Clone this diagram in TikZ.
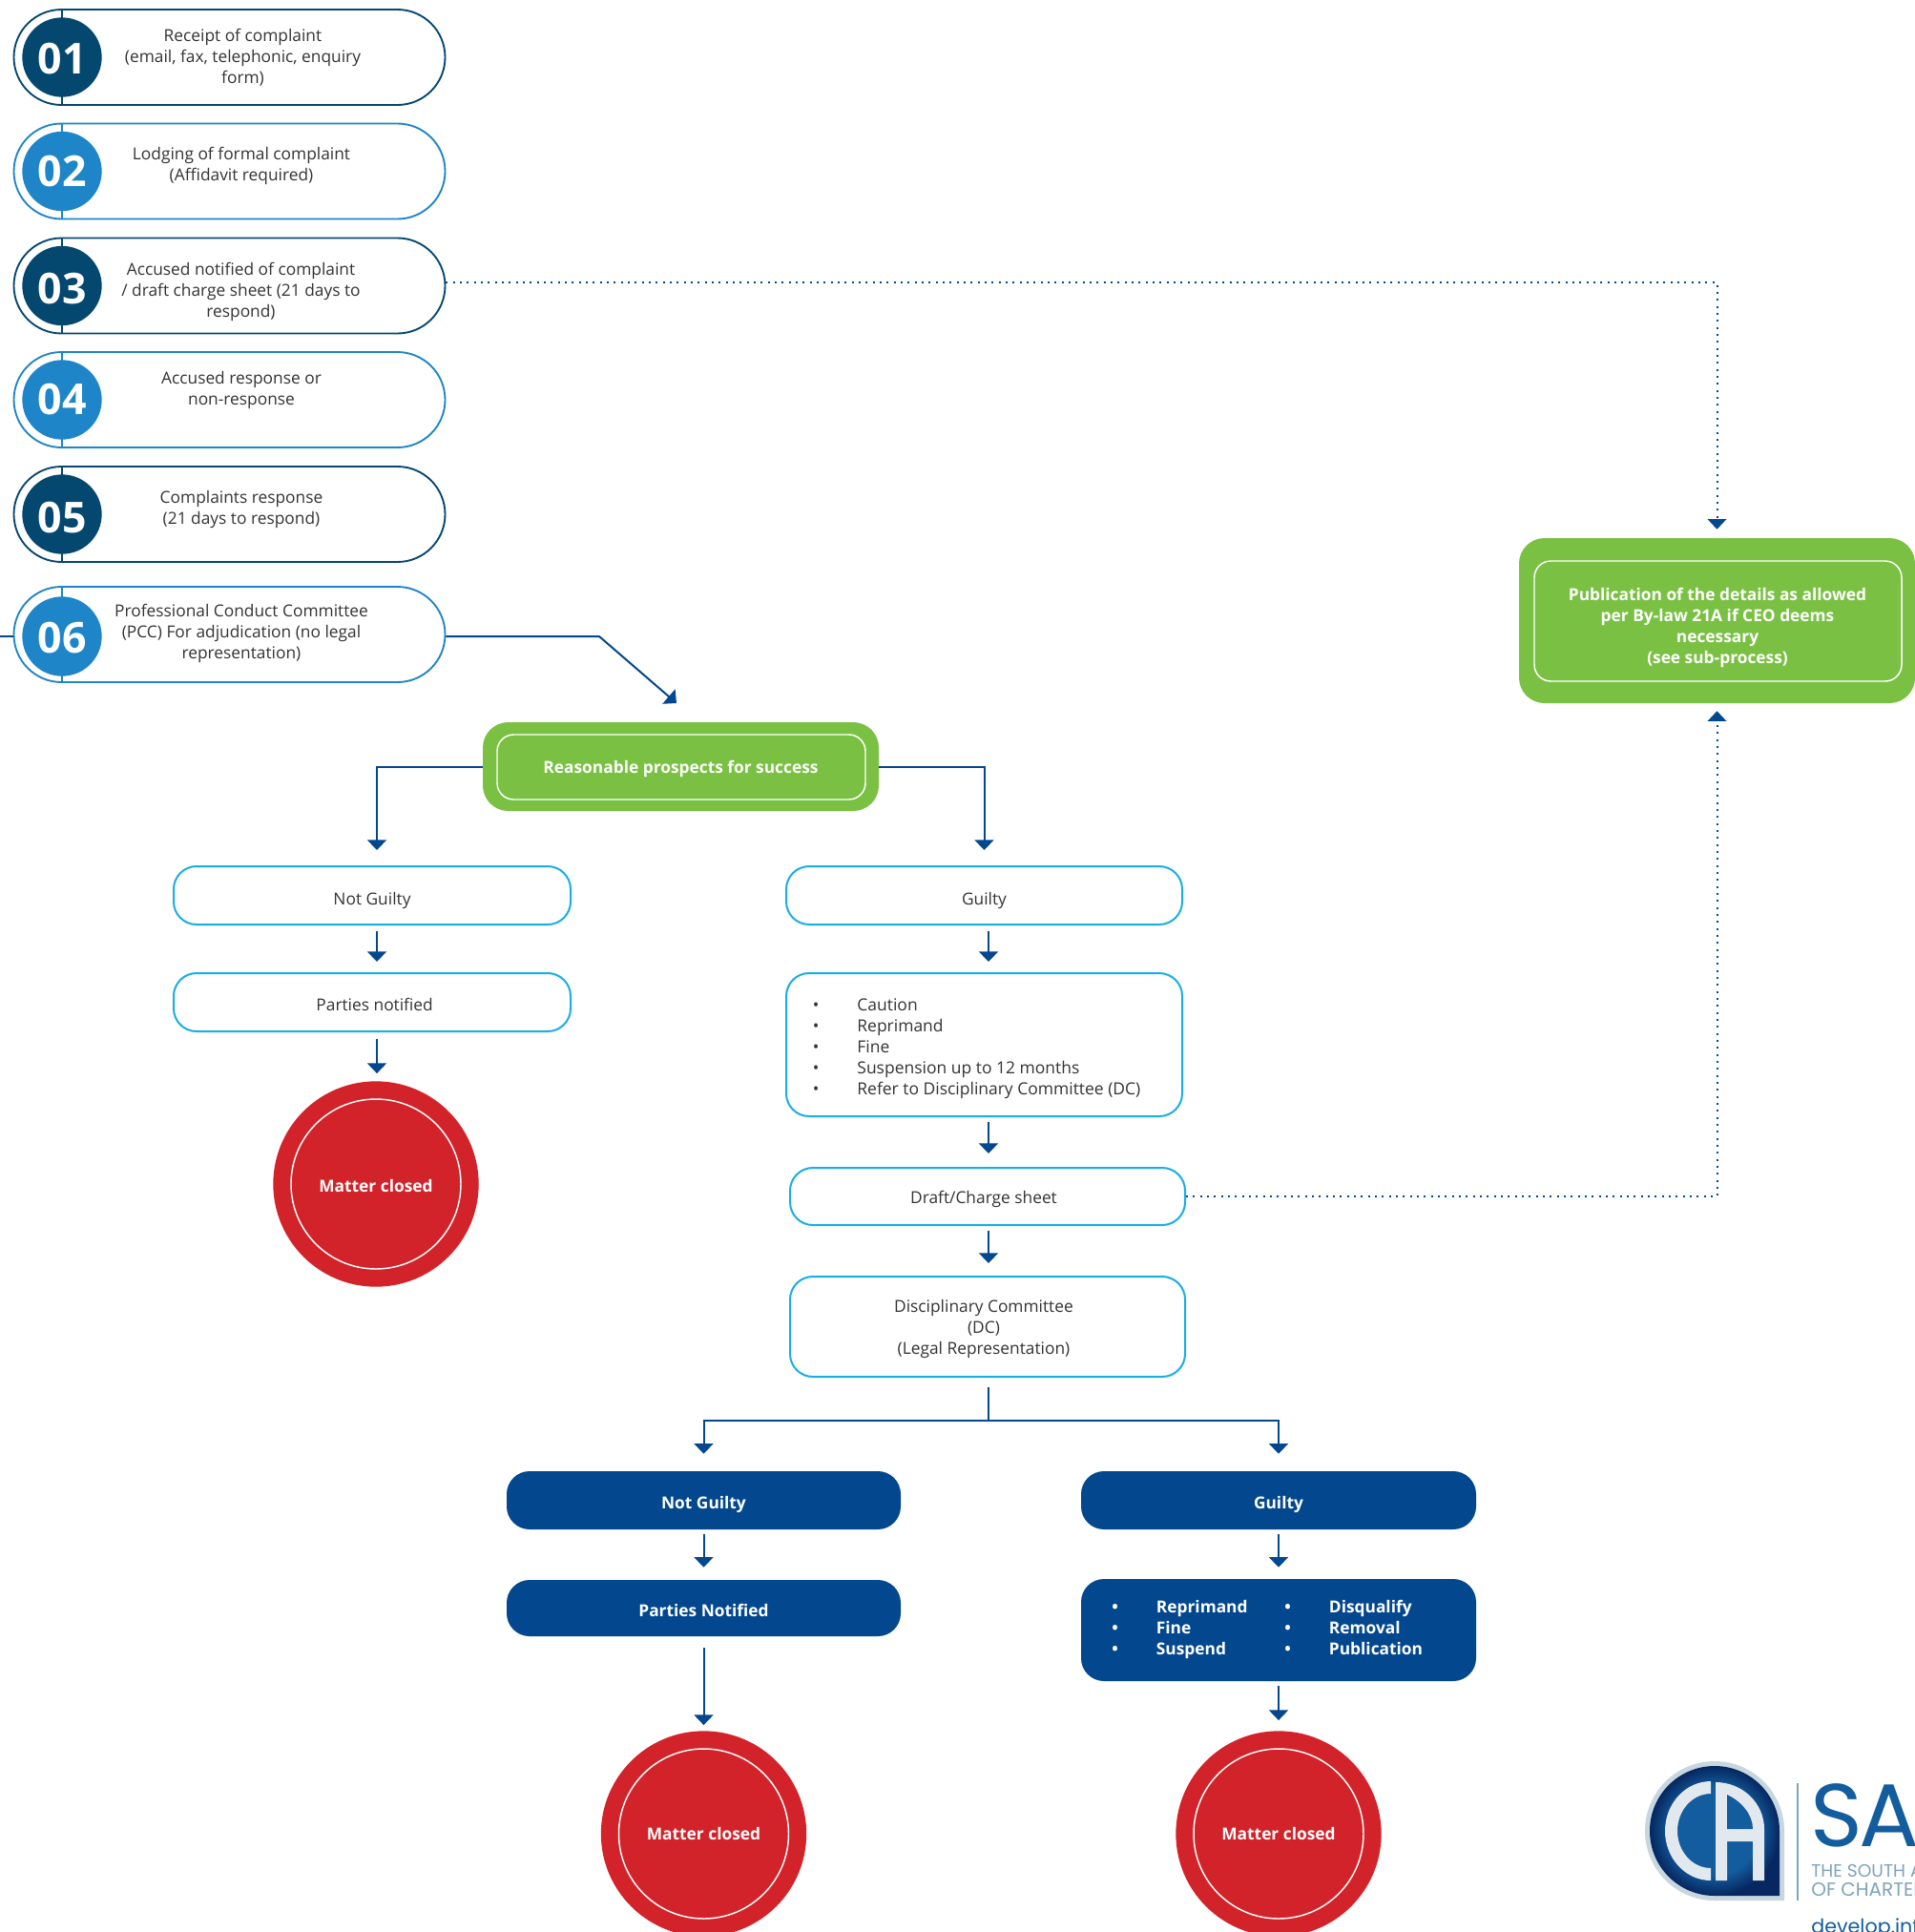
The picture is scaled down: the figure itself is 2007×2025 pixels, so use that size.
\documentclass[tikz,border=0pt]{standalone}
\usepackage{fontspec}
\setmainfont{Open Sans}
\newfontfamily\logofont{Poppins}
\usetikzlibrary{arrows.meta,calc,shapes.geometric}
\definecolor{dkpill}{HTML}{04476F}
\definecolor{mdpill}{HTML}{1E85C8}
\definecolor{ltbox}{HTML}{18AEE6}
\definecolor{grn}{HTML}{7AC143}
\definecolor{navy}{HTML}{03488E}
\definecolor{redc}{HTML}{D2232A}
\definecolor{bodytx}{HTML}{333333}
\definecolor{logoblue}{HTML}{135C9E}
\definecolor{logodark}{HTML}{06275F}
\definecolor{logosil}{HTML}{C8D6E0}
\definecolor{logotx}{HTML}{7FA3BC}
\pgfdeclareradialshading{logoshade}{\pgfpointorigin}{color(0bp)=(logoblue); color(17bp)=(logoblue); color(25bp)=(logodark); color(50bp)=(logodark)}
\tikzset{
  x=0.75pt,y=-0.75pt,
  pill/.style={draw=#1,line width=1.4pt,fill=white,rectangle,rounded corners=37.5pt,minimum width=339pt,minimum height=75pt,inner sep=0pt},
  tick/.style={draw=#1,line width=1.4pt},
  num/.style={circle,fill=#1,text=white,minimum size=62.5pt,inner sep=0pt,font=\bfseries\fontsize{33.5}{33.5}\selectfont},
  bodyt/.style={inner sep=0pt,align=center,text=bodytx,font=\fontsize{13}{16.5}\selectfont},
  boldt/.style={inner sep=0pt,align=center,text=white,font=\bfseries\fontsize{13}{16.5}\selectfont},
  listt/.style={inner sep=0pt,anchor=west,align=left,text=bodytx,font=\fontsize{13.1}{16.6}\selectfont},
  blistt/.style={inner sep=0pt,anchor=west,align=left,text=white,font=\bfseries\fontsize{13}{16.6}\selectfont},
  ltb/.style 2 args={draw=ltbox,line width=1.5pt,fill=white,rectangle,rounded corners=18pt,minimum width=#1*0.75pt,minimum height=#2*0.75pt,inner sep=0pt,align=center,text=bodytx,font=\fontsize{13}{16.5}\selectfont},
  navb/.style 2 args={fill=navy,rectangle,rounded corners=18pt,minimum width=#1*0.75pt,minimum height=#2*0.75pt,inner sep=0pt,align=center,text=white,font=\bfseries\fontsize{13}{16.5}\selectfont},
  grnb/.style 2 args={fill=grn,rectangle,rounded corners=20pt,minimum width=#1*0.75pt,minimum height=#2*0.75pt,inner sep=0pt},
  grnin/.style 2 args={draw=white,line width=1.1pt,rectangle,rounded corners=13pt,minimum width=#1*0.75pt,minimum height=#2*0.75pt,inner sep=0pt},
  closed/.style={circle,fill=redc,minimum size=161.5pt,inner sep=0pt,text=white,align=center,font=\bfseries\fontsize{13}{16.5}\selectfont},
  ring/.style={circle,draw=white,line width=1.1pt,minimum size=133.5pt,inner sep=0pt},
  flow/.style={draw=navy,line width=1.5pt,-{Triangle[width=15pt,length=8pt]}},
  plainl/.style={draw=navy,line width=1.5pt},
  dotflow/.style={draw=navy,line width=1.5pt,dash pattern=on 1.5pt off 4pt,-{Triangle[width=15pt,length=8pt,line width=0pt]}},
  gap/.style 2 args={shorten <=#1*0.75pt,shorten >=#2*0.75pt},
}
\newcommand{\blt}{\makebox[35pt][l]{•}}
\newcommand{\dn}[2]{\raisebox{-#1}[0.76em][0.24em]{#2}}
\newcommand{\dnum}[2]{\raisebox{-#1}[0.714em][0pt]{#2}}
\begin{document}
\begin{tikzpicture}
\useasboundingbox (0,0) rectangle (2007,2025);
\fill[white] (0,0) rectangle (2007,2025);

% numbered pills
\foreach \n/\cy/\col in {1/60/dkpill,2/179.5/mdpill,3/299.5/dkpill,4/419/mdpill,5/539/dkpill,6/665/mdpill}{
  \node[pill=\col] (p\n) at (240.5,\cy) {};
  \draw[tick=\col] (65,\cy-50) -- (65,\cy+50);
}
\node[num=dkpill] (c1) at (65,60) {\dnum{1pt}{01}};
\node[num=mdpill] (c2) at (65,179.5) {\dnum{0pt}{02}};
\node[num=dkpill] (c3) at (65,299.5) {\dnum{2pt}{03}};
\node[num=mdpill] (c4) at (65,419) {\dnum{0pt}{04}};
\node[num=dkpill] (c5) at (65,539) {\dnum{3pt}{05}};
\node[num=mdpill] (c6) at (65,667) {\dnum{1pt}{06}};
\node[bodyt] (t1) at (254.5,60) {Receipt of complaint\\(email, fax, telephonic, enquiry\\form)};
\node[bodyt] (t2) at (253,173.5) {Lodging of formal complaint\\(Affidavit required)};
\node[bodyt] (t3) at (252.5,306) {Accused notified of complaint\\/ draft charge sheet (21 days to\\respond)};
\node[bodyt] (t4) at (253,409) {Accused response or\\non-response};
\node[bodyt] (t5) at (253,533.5) {Complaints response\\(21 days to respond)};
\node[bodyt] (t6) at (253,663.5) {Professional Conduct Committee\\(PCC) For adjudication (no legal\\representation)};

% green boxes
\node[grnb={415}{93}] (g1) at (713.5,803.5) {};
\node[grnin={386}{68}] (g1i) at (714,804) {};
\node[boldt] (g1t) at (713.5,805.5) {Reasonable prospects for success};
\node[grnb={415}{173}] (pub) at (1799.5,650.5) {};
\node[grnin={385}{126}] (pubi) at (1800.5,651) {};
\node[boldt] (pubt) at (1800,657.5) {Publication of the details as allowed\\per By-law 21A if CEO deems\\necessary\\(see sub-process)};

% PCC outcome boxes
\node[ltb={416}{61}] (ng) at (390,938.5) {\dn{4pt}{Not Guilty}};
\node[ltb={416}{61}] (pn) at (390,1050.5) {\hspace*{4pt}\dn{3.1pt}{Parties notified}};
\node[closed] (m1) at (394,1241) {\dn{3pt}{Matter closed}};
\node[ring] (r1) at (m1.center) {};
\node[ltb={415}{61}] (gy) at (1031.5,938.5) {\dn{4pt}{Guilty}};
\node[ltb={415}{150}] (sb) at (1031.5,1095) {};
\node[listt] (sbt) at (851.5,1099) {\blt Caution\\\blt Reprimand\\\blt Fine\\\blt Suspension up to 12 months\\\blt Refer to Disciplinary Committee (DC)};
\node[ltb={414}{60}] (dr) at (1035,1254) {\hspace*{-6pt}\dn{2pt}{Draft/Charge sheet}};
\node[ltb={414}{105}] (dc) at (1035,1390.5) {};
\node[bodyt] (dct) at (1031,1392.5) {Disciplinary Committee\\(DC)\\(Legal Representation)};

% DC outcome boxes
\node[navb={413}{61}] (ng2) at (737.5,1572.5) {\dn{3pt}{Not Guilty}};
\node[navb={413}{59}] (pn2) at (737.5,1685.5) {\dn{3.6pt}{Parties Notified}};
\node[closed] (m2) at (737.5,1922) {Matter closed};
\node[ring] (r2) at (m2.center) {};
\node[navb={414}{61}] (gy2) at (1340,1572.5) {\dn{3pt}{Guilty}};
\node[navb={414}{107}] (sb2) at (1340,1708.5) {};
\node[blistt] (sb2a) at (1165,1708) {\blt\strut Reprimand\\\blt Fine\\\blt\strut Suspend};
\node[blistt] (sb2b) at (1346,1708) {\blt\strut Disqualify\\\blt Removal\\\blt\strut Publication};
\node[closed] (m3) at (1340,1922) {Matter closed};
\node[ring] (r3) at (m3.center) {};

% connectors
\coordinate (lin) at (0,667);
\coordinate (bend6) at (628,667);
\coordinate (tip6) at (709,737);
\coordinate (hub) at (1036,1489);
\draw[plainl] (lin) -- (lin -| p6.west);
\draw[flow] ([yshift=-1.5pt]p6.east) -- (bend6) -- (tip6);
\draw[flow,gap={0}{16}] (g1.west) -| ([xshift=3.75pt]ng.north);
\draw[flow,gap={0}{16}] (g1.east) -| (gy.north);
\draw[flow,gap={6}{11}] ([xshift=3.75pt]ng.south) -- ([xshift=3.75pt]pn.north);
\draw[flow,gap={7}{8}] ([xshift=3.75pt]pn.south) -- ([xshift=3.75pt]pn.south |- m1.north);
\draw[flow,gap={6}{11}] ([xshift=3.375pt]gy.south) -- ([xshift=3.375pt]sb.north);
\draw[flow,gap={5}{14}] ([xshift=3.375pt]sb.south) -- ([xshift=0.75pt]dr.north);
\draw[flow,gap={5}{13}] ([xshift=0.75pt]dr.south) -- ([xshift=0.75pt]dc.north);
\draw[plainl,gap={10}{0}] ([xshift=0.75pt]dc.south) -- (hub);
\draw[flow,gap={0}{18}] (hub) -| (ng2.north);
\draw[flow,gap={0}{18}] (hub) -| (gy2.north);
\draw[flow,gap={5}{13}] (ng2.south) -- (pn2.north);
\draw[flow,gap={12}{6}] (pn2.south) -- (m2.north);
\draw[flow,gap={5}{12}] (gy2.south) -- (sb2.north);
\draw[flow,gap={5}{11}] (sb2.south) -- (m3.north);
\draw[dotflow,gap={0}{9}] ([yshift=2.5pt]p3.east) -| (pub.north);
\draw[dotflow,gap={0}{8}] (dr.east) -| (pub.south);

% logo
\begin{scope}
\clip (1700,1830) rectangle (2007,2025);
\path[fill=logosil] (1870,1992) -- (1797,1992) arc[start angle=270,end angle=0,radius=54.75pt] -- cycle;
\path[shading=logoshade] (1865,1987) -- (1797,1987) arc[start angle=270,end angle=0,radius=51pt] -- cycle;
\path[fill=logosil!55!white] (1793,1867) arc[start angle=90,end angle=270,x radius=36pt,y radius=39pt] -- (1793,1958) arc[start angle=270,end angle=90,x radius=26.25pt,y radius=29.25pt] -- cycle;
\path[fill=logosil!55!white] (1798,1971) -- (1798,1868) arc[start angle=90,end angle=0,x radius=38.25pt,y radius=36.75pt] -- (1849,1971) -- (1837,1971) -- (1837,1930) -- (1810,1930) -- (1810,1971) -- cycle;
\path[fill=logoblue] (1810,1881) .. controls (1825,1888) and (1837,1902) .. (1837,1917) -- (1810,1917) -- cycle;
\draw[logotx,line width=1pt] (1884,1869) -- (1884,1992);
\node[anchor=west,inner sep=0pt,text=logoblue,font=\logofont\fontsize{70}{70}\selectfont] (lsa) at (1897,1903) {S\kern-3pt A};
\node[anchor=west,inner sep=0pt,text=logotx,font=\logofont\fontsize{14}{14}\selectfont] (lt1) at (1898,1961) {THE SOUTH A};
\node[anchor=west,inner sep=0pt,text=logotx,font=\logofont\fontsize{15}{15}\selectfont] (lt2) at (1898,1980) {OF CHARTER};
\node[anchor=west,inner sep=0pt,text=logoblue,font=\logofont\fontsize{15.5}{15.5}\selectfont] (lt3) at (1898,2021) {develop.inf};
\end{scope}
\end{tikzpicture}
\end{document}
